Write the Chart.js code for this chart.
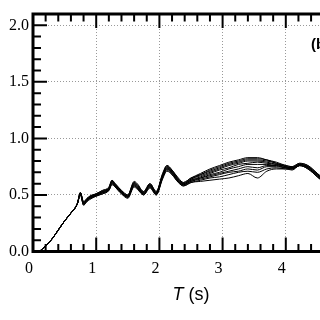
<!DOCTYPE html>
<html>
<head>
<meta charset="utf-8">
<script src="https://cdn.jsdelivr.net/npm/chart.js@4.4.1/dist/chart.umd.min.js"></script>
<style>
  html, body { margin: 0; padding: 0; background: #fff; overflow: hidden; }
  #wrap { width: 320px; height: 320px; overflow: hidden; }
</style>
</head>
<body>
<div id="wrap"><canvas id="chart" width="370" height="320"></canvas></div>
<script>
// Periodos (s)
const periods = [0.10, 0.20, 0.30, 0.40, 0.50, 0.60, 0.70, 0.75, 0.80, 0.85,
                 0.90, 1.00, 1.10, 1.20, 1.25, 1.30, 1.40, 1.50, 1.60, 1.65,
                 1.75, 1.85, 1.95, 2.05, 2.12, 2.20, 2.30, 2.38, 2.50, 2.65,
                 2.80, 2.95, 3.10, 3.25, 3.40, 3.55, 3.70, 3.85, 4.00, 4.10,
                 4.22, 4.35, 4.50, 4.65, 4.80, 5.00];

// Espectros (una curva por registro)
const spec1 = [0.00,0.05,0.11,0.19,0.27,0.34,0.42,0.50,0.41,0.44,0.46,0.49,0.51,0.54,0.59,0.57,0.51,0.47,0.57,0.55,0.50,0.56,0.50,0.64,0.71,0.68,0.61,0.58,
               0.61,0.62,0.63,0.64,0.65,0.67,0.69,0.65,0.71,0.73,0.73,0.72,0.76,0.73,0.66,0.59,0.56,0.54];
const spec2 = [0.00,0.05,0.11,0.19,0.27,0.34,0.42,0.50,0.41,0.44,0.47,0.49,0.51,0.54,0.60,0.57,0.51,0.48,0.58,0.56,0.50,0.57,0.50,0.65,0.72,0.68,0.61,0.58,
               0.61,0.63,0.65,0.66,0.68,0.70,0.71,0.70,0.73,0.74,0.73,0.73,0.76,0.73,0.66,0.59,0.56,0.54];
const spec3 = [0.00,0.05,0.11,0.19,0.27,0.34,0.42,0.51,0.42,0.45,0.47,0.49,0.52,0.54,0.60,0.58,0.52,0.48,0.58,0.56,0.51,0.57,0.51,0.65,0.73,0.69,0.62,0.59,
               0.62,0.64,0.66,0.68,0.70,0.71,0.73,0.72,0.75,0.75,0.74,0.73,0.76,0.74,0.66,0.60,0.56,0.54];
const spec4 = [0.00,0.05,0.11,0.19,0.27,0.34,0.42,0.51,0.42,0.45,0.47,0.50,0.52,0.55,0.61,0.58,0.52,0.48,0.59,0.57,0.51,0.58,0.51,0.66,0.73,0.69,0.62,0.59,
               0.62,0.65,0.67,0.69,0.71,0.73,0.75,0.74,0.76,0.76,0.74,0.73,0.76,0.74,0.67,0.60,0.57,0.55];
const spec5 = [0.00,0.05,0.11,0.19,0.27,0.34,0.42,0.51,0.42,0.45,0.48,0.50,0.52,0.55,0.61,0.58,0.52,0.49,0.59,0.57,0.51,0.58,0.51,0.66,0.74,0.70,0.62,0.59,
               0.63,0.65,0.68,0.70,0.73,0.75,0.77,0.77,0.77,0.76,0.74,0.74,0.77,0.74,0.67,0.60,0.57,0.55];
const spec6 = [0.00,0.05,0.11,0.19,0.27,0.34,0.42,0.51,0.43,0.45,0.48,0.50,0.53,0.55,0.62,0.59,0.53,0.49,0.60,0.58,0.52,0.59,0.52,0.67,0.74,0.70,0.63,0.60,
               0.63,0.66,0.69,0.72,0.74,0.77,0.78,0.79,0.78,0.77,0.75,0.74,0.77,0.75,0.68,0.61,0.57,0.55];
const spec7 = [0.00,0.05,0.11,0.19,0.27,0.34,0.42,0.52,0.43,0.46,0.48,0.50,0.53,0.56,0.62,0.59,0.53,0.49,0.60,0.58,0.52,0.59,0.52,0.67,0.75,0.71,0.63,0.60,
               0.64,0.67,0.70,0.73,0.76,0.78,0.80,0.80,0.79,0.77,0.75,0.74,0.77,0.75,0.68,0.61,0.57,0.55];
const spec8 = [0.00,0.05,0.11,0.19,0.27,0.34,0.42,0.52,0.43,0.46,0.48,0.51,0.53,0.56,0.62,0.59,0.53,0.49,0.61,0.59,0.52,0.59,0.52,0.68,0.75,0.71,0.64,0.60,
               0.64,0.68,0.71,0.74,0.77,0.79,0.81,0.81,0.80,0.78,0.75,0.74,0.77,0.75,0.68,0.61,0.58,0.56];
const spec9 = [0.00,0.05,0.11,0.19,0.27,0.34,0.42,0.52,0.44,0.46,0.49,0.51,0.54,0.56,0.63,0.60,0.54,0.50,0.61,0.59,0.53,0.60,0.53,0.68,0.76,0.72,0.64,0.61,
               0.65,0.68,0.72,0.75,0.78,0.80,0.82,0.82,0.81,0.78,0.76,0.75,0.78,0.76,0.69,0.62,0.58,0.56];
const spec10 = [0.00,0.05,0.11,0.19,0.27,0.34,0.42,0.52,0.44,0.47,0.49,0.51,0.54,0.57,0.63,0.60,0.54,0.50,0.62,0.60,0.53,0.60,0.53,0.69,0.76,0.72,0.65,0.61,
                0.65,0.69,0.73,0.76,0.79,0.81,0.83,0.83,0.81,0.79,0.76,0.75,0.78,0.76,0.69,0.62,0.58,0.56];

const allSpectra = [spec1, spec2, spec3, spec4, spec5, spec6, spec7, spec8, spec9, spec10];

const xTitle = 'T';
const xUnit = ' (s)';
const panelLabel = '(b)';

const isMajorX = v => Math.abs(v - Math.round(v)) < 1e-6;
const isMajorY = v => Math.abs(v * 2 - Math.round(v * 2)) < 1e-6;

// Marco, ticks hacia dentro y textos extra
const framePlugin = {
    id: 'frame',
    afterDatasetsDraw(chart) {
        const { ctx, chartArea: a, scales } = chart;
        ctx.save();
        ctx.strokeStyle = '#000';
        ctx.lineWidth = 2;
        ctx.beginPath();
        scales.x.ticks.forEach(t => {
            const px = scales.x.getPixelForValue(t.value);
            const len = isMajorX(t.value) ? 14 : 7.5;
            ctx.moveTo(px, a.bottom); ctx.lineTo(px, a.bottom - len);
            ctx.moveTo(px, a.top); ctx.lineTo(px, a.top + len);
        });
        scales.y.ticks.forEach(t => {
            const py = scales.y.getPixelForValue(t.value);
            const len = isMajorY(t.value) ? 14 : 8;
            ctx.moveTo(a.left, py); ctx.lineTo(a.left + len, py);
            ctx.moveTo(a.right, py); ctx.lineTo(a.right - len, py);
        });
        ctx.stroke();
        ctx.lineWidth = 3;
        ctx.strokeRect(a.left, a.top, a.right - a.left, a.bottom - a.top);

        // titulo del eje x: T en cursiva
        ctx.fillStyle = '#000';
        ctx.textBaseline = 'alphabetic';
        const cx = (a.left + a.right) / 2;
        ctx.font = 'italic 18px "Liberation Sans", Arial, sans-serif';
        const w1 = ctx.measureText(xTitle).width;
        ctx.font = '18px "Liberation Sans", Arial, sans-serif';
        const w2 = ctx.measureText(xUnit).width;
        const x0 = cx - (w1 + w2) / 2;
        ctx.font = 'italic 18px "Liberation Sans", Arial, sans-serif';
        ctx.fillText(xTitle, x0, 300);
        ctx.font = '18px "Liberation Sans", Arial, sans-serif';
        ctx.fillText(xUnit, x0 + w1, 300);

        ctx.font = 'bold 15px "Liberation Sans", Arial, sans-serif';
        ctx.fillText(panelLabel, 311, 49);
        ctx.restore();
    }
};

const ctx = document.getElementById('chart').getContext('2d');
const spectraChart = new Chart(ctx, {
    type: 'line',
    data: {
        datasets: allSpectra.map((s, k) => ({
            label: 'Registro ' + (k + 1),
            data: periods.map((t, i) => ({ x: t, y: s[i] })),
            borderColor: '#000',
            borderWidth: 1,
            pointRadius: 0,
            cubicInterpolationMode: 'monotone',
            fill: false
        }))
    },
    options: {
        responsive: false,
        animation: false,
        events: [],
        layout: { padding: { left: 0, top: 14, right: 21, bottom: 0 } },
        plugins: { legend: { display: false }, tooltip: { enabled: false } },
        scales: {
            x: {
                type: 'linear',
                min: 0,
                max: 5,
                afterFit: s => { s.height = 68.5; },
                border: { display: false, dash: [1, 2] },
                grid: {
                    drawTicks: false,
                    color: c => (c.tick && isMajorX(c.tick.value) && c.tick.value > 0 && c.tick.value < 5) ? '#999' : 'rgba(0,0,0,0)',
                    lineWidth: 1
                },
                ticks: {
                    stepSize: 0.2,
                    autoSkip: false,
                    maxRotation: 0,
                    padding: 8,
                    labelOffset: -4,
                    color: '#000',
                    font: { family: '"Liberation Serif", "Times New Roman", serif', size: 16 },
                    callback: v => isMajorX(v) ? String(Math.round(v)) : ''
                }
            },
            y: {
                min: 0,
                max: 2.1,
                afterFit: s => { s.width = 33; },
                border: { display: false, dash: [1, 2] },
                grid: {
                    drawTicks: false,
                    color: c => (c.tick && isMajorY(c.tick.value) && c.tick.value > 0) ? '#999' : 'rgba(0,0,0,0)',
                    lineWidth: 1
                },
                ticks: {
                    stepSize: 0.1,
                    autoSkip: false,
                    padding: 4,
                    color: '#000',
                    font: { family: '"Liberation Serif", "Times New Roman", serif', size: 16 },
                    callback: v => isMajorY(v) ? v.toFixed(1) : ''
                }
            }
        }
    },
    plugins: [framePlugin]
});
</script>
</body>
</html>
